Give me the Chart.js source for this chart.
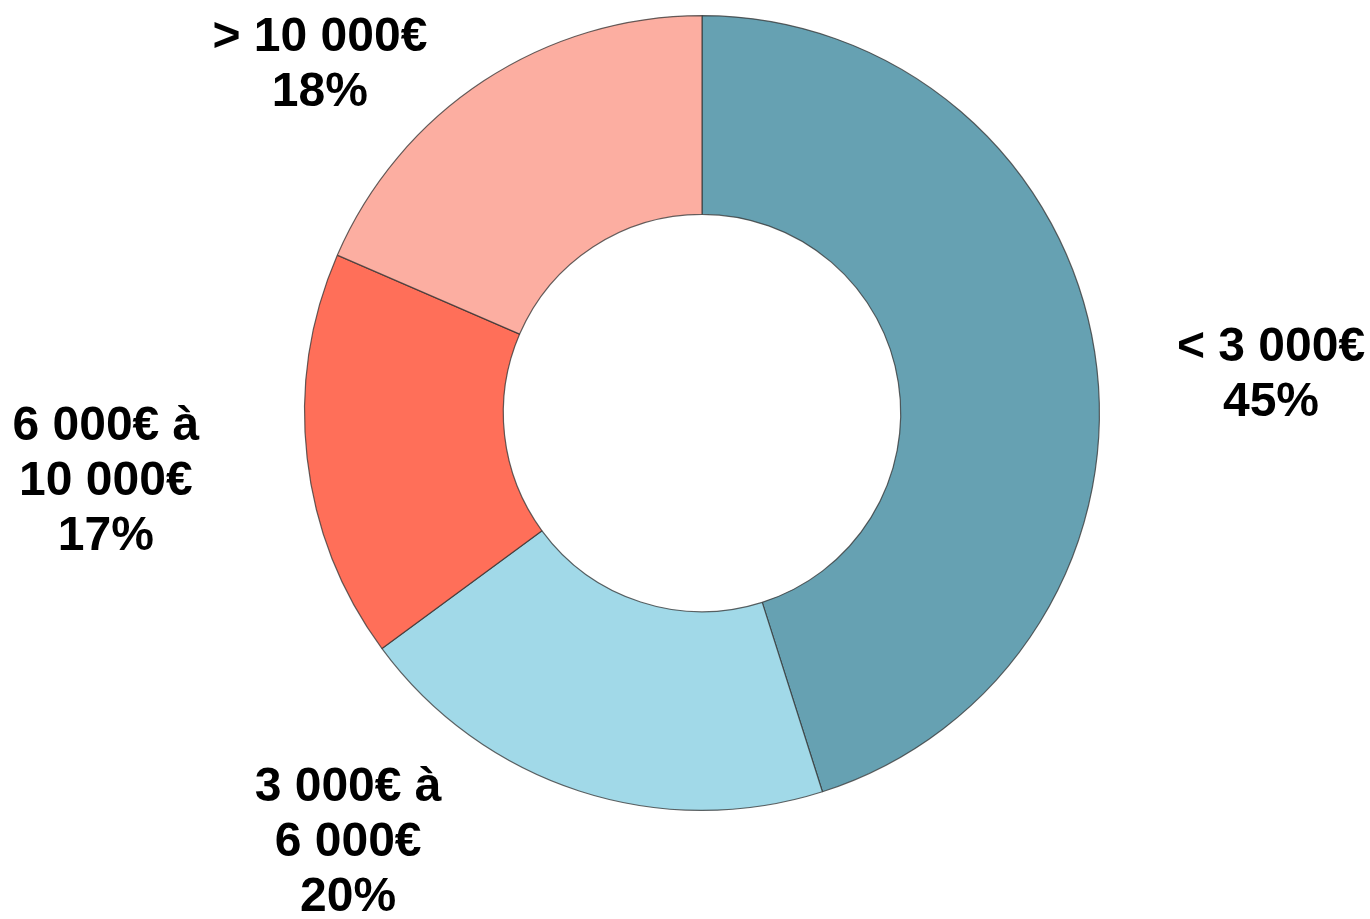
<!DOCTYPE html>
<html>
<head>
<meta charset="utf-8">
<script src="https://cdn.jsdelivr.net/npm/chart.js@4/dist/chart.umd.min.js"></script>
<style>
  html, body { margin: 0; padding: 0; background: #ffffff; }
  #wrap { width: 1370px; height: 919px; }
</style>
</head>
<body>
<div id="wrap"><canvas id="c" width="1370" height="919"></canvas></div>
<script>
// Categories (each label split into its display lines)
const categories = [
  ['< 3 000€'],
  ['3 000€ à', '6 000€'],
  ['6 000€ à', '10 000€'],
  ['> 10 000€']
];
// Series values (percent)
const values = [45.1, 19.8, 16.6, 18.5];
// Percentage labels as printed on the chart
const percentLabels = ['45%', '20%', '17%', '18%'];
// Slice colours
const colors = ['#66A1B2', '#A1D9E8', '#FF6F59', '#FCAEA1'];
// Label placement relative to each arc: angle shift (deg) from mid-angle, radius factor of outer radius
const labelShift = [5.0, 21.5, -0.1, -14.4];
const labelRadius = [1.435, 1.40, 1.51, 1.30];

const labelPlugin = {
  id: 'sliceLabels',
  afterDraw(chart) {
    const ctx = chart.ctx;
    const meta = chart.getDatasetMeta(0);
    ctx.save();
    ctx.font = 'bold 48px "Liberation Sans", Arial, sans-serif';
    ctx.fillStyle = '#000000';
    ctx.textAlign = 'center';
    ctx.textBaseline = 'middle';
    const lineH = 55;
    meta.data.forEach((arc, i) => {
      const p = arc.getProps(['x', 'y', 'startAngle', 'endAngle', 'outerRadius'], true);
      const mid = (p.startAngle + p.endAngle) / 2 + labelShift[i] * Math.PI / 180;
      const r = p.outerRadius * labelRadius[i];
      const cx = p.x + Math.cos(mid) * r;
      const cy = p.y + Math.sin(mid) * r;
      const lines = categories[i].concat([percentLabels[i]]);
      const top = cy - (lines.length - 1) * lineH / 2;
      lines.forEach((t, k) => ctx.fillText(t, cx, top + k * lineH));
    });
    ctx.restore();
  }
};

new Chart(document.getElementById('c'), {
  type: 'doughnut',
  data: {
    labels: categories.map(l => l.join(' ')),
    datasets: [{
      data: values,
      backgroundColor: colors,
      borderColor: 'rgba(50,50,50,0.75)',
      borderWidth: 1.2
    }]
  },
  options: {
    responsive: false,
    animation: false,
    cutout: '50%',
    layout: { padding: { top: 15, bottom: 108, left: 34, right: 0 } },
    plugins: {
      legend: { display: false },
      tooltip: { enabled: false }
    }
  },
  plugins: [labelPlugin]
});
</script>
</body>
</html>
